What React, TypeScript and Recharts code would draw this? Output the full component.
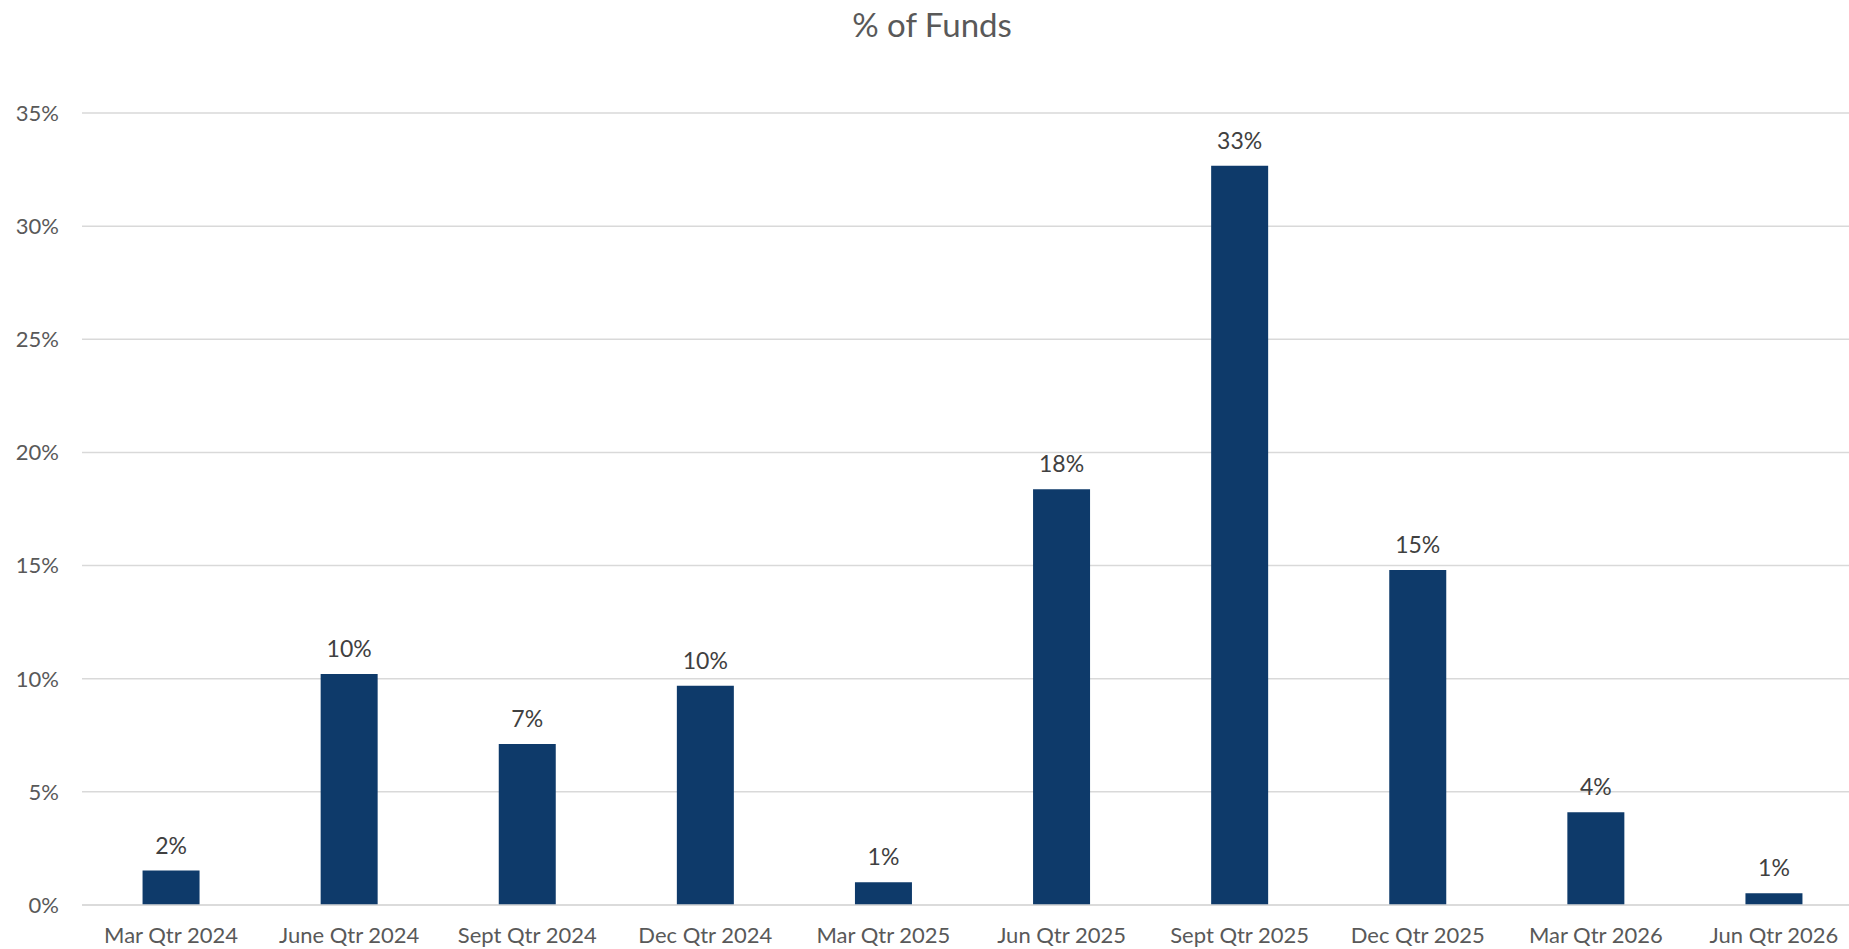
import React from 'react';
import { BarChart, Bar, XAxis, YAxis, CartesianGrid, LabelList } from 'recharts';

const quarters = [
  'Mar Qtr 2024',
  'June Qtr 2024',
  'Sept Qtr 2024',
  'Dec Qtr 2024',
  'Mar Qtr 2025',
  'Jun Qtr 2025',
  'Sept Qtr 2025',
  'Dec Qtr 2025',
  'Mar Qtr 2026',
  'Jun Qtr 2026',
];

// share of funds, in percent
const fundShare = [1.52, 10.21, 7.11, 9.69, 1.0, 18.37, 32.67, 14.8, 4.1, 0.52];

const yTicks = [0, 5, 10, 15, 20, 25, 30, 35];

const data = quarters.map((name, i) => ({ name, value: fundShare[i] }));

const FONT = 'Lato, "Open Sans", sans-serif';

const App: React.FC = () => {
  return (
    <div
      style={{
        position: 'absolute',
        top: 0,
        left: 0,
        width: 1849,
        height: 949,
        overflow: 'hidden',
        background: '#fff',
        fontFamily: FONT,
      }}
    >
      <div
        style={{
          position: 'absolute',
          top: 4,
          left: 0,
          width: 1864,
          textAlign: 'center',
          fontSize: 33,
          color: '#595959',
          lineHeight: '40px',
        }}
      >
        % of Funds
      </div>
      <BarChart
        width={1870}
        height={949}
        data={data}
        margin={{ top: 113, right: 7, left: 0, bottom: 0 }}
        barCategoryGap="34%"
      >
        <CartesianGrid vertical={false} stroke="#d9d9d9" strokeWidth={1.5} />
        <XAxis
          dataKey="name"
          height={44}
          tickLine={false}
          axisLine={{ stroke: '#d9d9d9', strokeWidth: 1.5 }}
          tickSize={0}
          tickMargin={22}
          interval={0}
          tick={{ fill: '#595959', fontSize: 22, fontFamily: FONT }}
        />
        <YAxis
          width={82}
          domain={[0, 35]}
          ticks={yTicks}
          tickFormatter={(v: number) => `${v}%`}
          axisLine={false}
          tickLine={false}
          tickSize={0}
          tickMargin={23}
          tick={{ fill: '#595959', fontSize: 22, fontFamily: FONT }}
        />
        <Bar dataKey="value" fill="#0e3a6a" isAnimationActive={false}>
          <LabelList
            dataKey="value"
            position="top"
            offset={17}
            formatter={(v: number) => `${Math.round(v)}%`}
            style={{ fill: '#404040', fontSize: 23, fontFamily: FONT }}
          />
        </Bar>
      </BarChart>
    </div>
  );
};

export default App;
